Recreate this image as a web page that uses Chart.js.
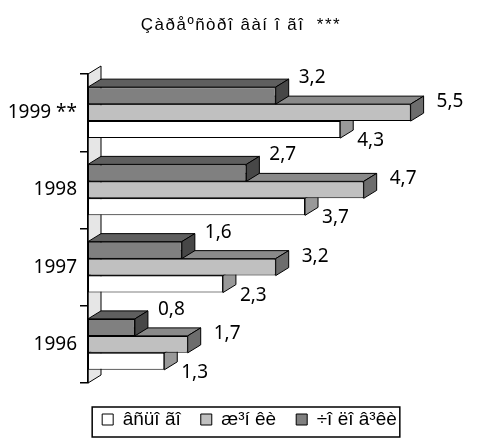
<!DOCTYPE html>
<html>
<head>
<meta charset="utf-8">
<script src="https://cdn.jsdelivr.net/npm/chart.js@4"></script>
<style>
  html, body { margin: 0; padding: 0; background: #fff; }
</style>
</head>
<body>
<canvas id="canvas" width="481" height="439"></canvas>
<script>
(function() {

    // data
    const chartTitle = 'Çàðåºñòðî âàí î ãî  ***';
    const years = ['1999 **', '1998', '1997', '1996'];
    const seriesNames = ['âñüî ãî', 'æ³í êè', '÷î ëî â³êè'];
    const vsogo = [4.3, 3.7, 2.3, 1.3];
    const zhinky = [5.5, 4.7, 3.2, 1.7];
    const choloviky = [3.2, 2.7, 1.6, 0.8];

    // depth of the fake 3d
    const DX = 13;
    const DY = 8;

    // index 0 is the top bar of every group (dark)
    const looks = [
        { front: '#808080', top: '#5f5f5f', side: '#474747', dx: 23, dy: -18 },
        { front: '#c0c0c0', top: '#8a8a8a', side: '#6d6d6d', dx: 26, dy: -11 },
        { front: '#ffffff', top: '#d0d0d0', side: '#999999', dx: 17, dy: 11 }
    ];

    function el(cssSelector) {
        return document.querySelector(cssSelector);
    }

    function poly(ctx, pts, fill) {
        ctx.beginPath();
        ctx.moveTo(pts[0][0], pts[0][1]);
        for (let i = 1; i < pts.length; i++) ctx.lineTo(pts[i][0], pts[i][1]);
        ctx.closePath();
        ctx.fillStyle = fill;
        ctx.fill();
        ctx.stroke();
    }

    const bars3d = {
        id: 'bars3d',
        afterLayout(chart) {
            // legend sits a bit right of the middle in the original
            chart.legend.left += 18;
        },
        beforeDraw(chart) {
            // left wall
            const ctx = chart.ctx;
            const a = chart.chartArea;
            ctx.save();
            ctx.strokeStyle = '#000';
            ctx.lineWidth = 1;
            poly(ctx, [[a.left, a.top], [a.left + DX, a.top - DY], [a.left + DX, a.bottom - DY], [a.left, a.bottom]], '#e6e6e6');
            ctx.restore();
        },
        beforeDatasetsDraw(chart) {
            // top and side faces, lowest bar of the group first
            const ctx = chart.ctx;
            ctx.save();
            ctx.strokeStyle = '#000';
            ctx.lineWidth = 1;
            for (let j = 0; j < years.length; j++) {
                for (let i = chart.data.datasets.length - 1; i >= 0; i--) {
                    const bar = chart.getDatasetMeta(i).data[j];
                    const p = bar.getProps(['x', 'y', 'base', 'height'], true);
                    const t = p.y - p.height / 2;
                    const b = p.y + p.height / 2;
                    poly(ctx, [[p.base, t], [p.base + DX, t - DY], [p.x + DX, t - DY], [p.x, t]], looks[i].top);
                    poly(ctx, [[p.x, t], [p.x + DX, t - DY], [p.x + DX, b - DY], [p.x, b]], looks[i].side);
                }
            }
            ctx.restore();
        },
        afterDatasetsDraw(chart) {
            const ctx = chart.ctx;
            ctx.save();
            ctx.fillStyle = '#000';
            ctx.font = '19px "Noto Sans"';
            ctx.textAlign = 'left';
            ctx.textBaseline = 'middle';
            chart.data.datasets.forEach((ds, i) => {
                chart.getDatasetMeta(i).data.forEach((bar, j) => {
                    const txt = String(ds.data[j]).replace('.', ',');
                    ctx.fillText(txt, bar.x + looks[i].dx, bar.y + looks[i].dy);
                });
            });
            ctx.restore();
        },
        afterDraw(chart) {
            const ctx = chart.ctx;
            ctx.save();
            // title
            ctx.fillStyle = '#000';
            ctx.font = '17px "Liberation Sans"';
            ctx.letterSpacing = '1.5px';
            ctx.textAlign = 'center';
            ctx.textBaseline = 'middle';
            ctx.fillText(chartTitle, 241, 25);
            ctx.letterSpacing = '0px';
            // frame round the legend
            const hb = chart.legend.legendHitBoxes;
            let l = Infinity, r = -Infinity;
            hb.forEach(h => { l = Math.min(l, h.left); r = Math.max(r, h.left + h.width); });
            const top = hb[0].top - 3;
            const bottom = Math.min(hb[0].top + hb[0].height + 8, chart.height - 2);
            ctx.strokeStyle = '#000';
            ctx.lineWidth = 1.5;
            ctx.strokeRect(l - 10, top, r - l + 13, bottom - top);
            ctx.restore();
        }
    };

    const mk = (label, data, look) => ({
        label: label,
        data: data,
        backgroundColor: look.front,
        borderColor: '#000',
        borderWidth: 1,
        borderSkipped: false,
        categoryPercentage: 0.66,
        barPercentage: 1,
        clip: false
    });

    new Chart(el('#canvas').getContext('2d'), {
        type: 'bar',
        data: {
            labels: years,
            datasets: [
                mk(seriesNames[2], choloviky, looks[0]),
                mk(seriesNames[1], zhinky, looks[1]),
                mk(seriesNames[0], vsogo, looks[2])
            ]
        },
        options: {
            indexAxis: 'y',
            responsive: false,
            animation: false,
            layout: { padding: { left: 0, right: 0, top: 74, bottom: 0 } },
            scales: {
                x: {
                    min: 0,
                    max: 6.7,
                    ticks: { display: false },
                    grid: { display: false },
                    border: { display: false },
                    afterFit: s => { s.height = 7; }
                },
                y: {
                    grid: { display: true, drawOnChartArea: false, drawTicks: true, tickLength: 8, color: '#000', lineWidth: 1.5, offset: true },
                    border: { display: true, color: '#000', width: 1.5 },
                    ticks: { color: '#000', padding: 3, font: { family: 'Noto Sans', size: 19 } },
                    afterFit: s => { s.width = 88; }
                }
            },
            plugins: {
                tooltip: { enabled: false },
                legend: {
                    position: 'bottom',
                    reverse: true,
                    labels: {
                        color: '#000',
                        boxWidth: 11,
                        boxHeight: 11,
                        padding: 20,
                        font: { family: 'Liberation Sans', size: 19 }
                    }
                }
            }
        },
        plugins: [bars3d]
    });

}());
</script>
</body>
</html>
